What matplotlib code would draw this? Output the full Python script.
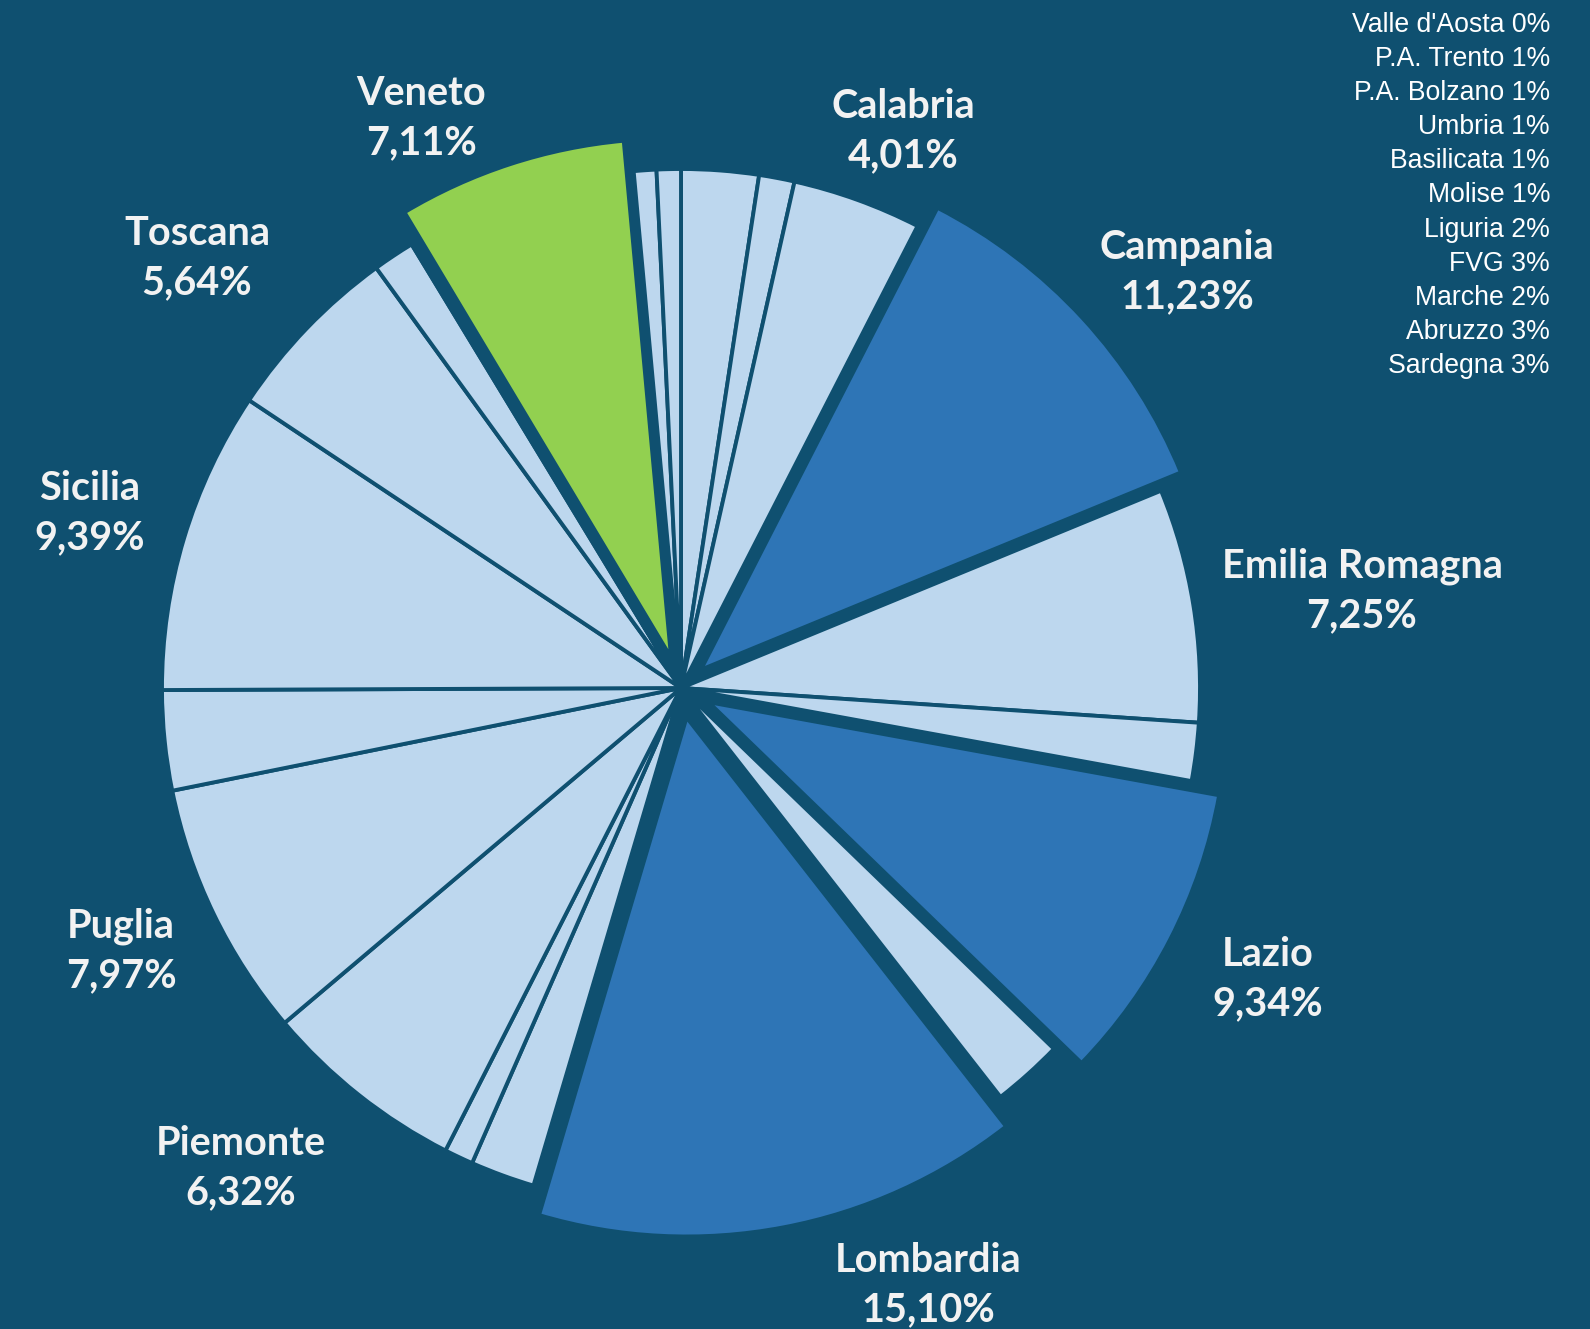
import matplotlib
matplotlib.use("Agg")
import matplotlib.pyplot as plt

# quote per regione, in senso orario partendo dalle 12
regions = ["Abruzzo", "Basilicata", "Calabria", "Campania", "Emilia Romagna", "FVG",
           "Lazio", "Liguria", "Lombardia", "Marche", "Molise", "Piemonte", "Puglia",
           "Sardegna", "Sicilia", "Toscana", "Umbria", "Valle d'Aosta", "Veneto",
           "P.A. Bolzano", "P.A. Trento"]
shares = [2.4, 1.1, 4.01, 11.23, 7.25, 1.8, 9.34, 2.2, 15.10, 2.0, 0.9, 6.32, 7.97,
          3.1, 9.39, 5.64, 1.3, 0.1, 7.11, 0.7, 0.75]

# regioni con etichetta sul grafico
labelled = ["Veneto", "Calabria", "Campania", "Toscana", "Sicilia", "Emilia Romagna",
            "Lazio", "Puglia", "Piemonte", "Lombardia"]
highlight_dark = ["Campania", "Lazio", "Lombardia"]
highlight_green = ["Veneto"]

# elenco regioni piccole (in alto a destra)
small_text = ["Valle d'Aosta 0%", "P.A. Trento 1%", "P.A. Bolzano 1%", "Umbria 1%",
              "Basilicata 1%", "Molise 1%", "Liguria 2%", "FVG 3%", "Marche 2%",
              "Abruzzo 3%", "Sardegna 3%"]

# layout (pixel, origine in alto a sinistra)
W, H = 1590, 1329
CENTER = (681, 688)
RADIUS = 519
explode_px = {"Campania": 27, "Lazio": 31, "Lombardia": 30, "Veneto": 32}
label_pos = {"Veneto": (421, 118), "Calabria": (903, 131), "Campania": (1187, 272),
             "Toscana": (197, 258), "Sicilia": (90, 513), "Emilia Romagna": (1362, 591),
             "Lazio": (1268, 979), "Puglia": (121, 951), "Piemonte": (241, 1168),
             "Lombardia": (928, 1285)}

BG = "#0F5070"
LIGHT = "#BDD7EE"
DARK = "#2E75B6"
GREEN = "#92D050"
TXT = "#F2F2F2"

colors = []
for r in regions:
    if r in highlight_dark:
        colors.append(DARK)
    elif r in highlight_green:
        colors.append(GREEN)
    else:
        colors.append(LIGHT)
explode = [explode_px.get(r, 0) for r in regions]

fig = plt.figure(figsize=(W / 100, H / 100), dpi=100, facecolor=BG)
ax = fig.add_axes([0, 0, 1, 1])
ax.set_facecolor(BG)

ax.pie(shares, colors=colors, explode=explode, startangle=90, counterclock=False,
       radius=RADIUS, center=(CENTER[0], H - CENTER[1]), frame=True,
       wedgeprops=dict(edgecolor=BG, linewidth=2.8))

for r in labelled:
    val = shares[regions.index(r)]
    txt = f"{r}\n{val:.2f}%".replace(".", ",")
    x, y = label_pos[r]
    ax.text(x, H - y, txt, ha="center", va="center", color=TXT, fontsize=28.5,
            fontweight="bold", family="Lato", linespacing=1.42)

for i, t in enumerate(small_text):
    ax.text(1550, H - (25 + i * 34.1), t, ha="right", va="center", color="white",
            fontsize=19.2, family="Liberation Sans")

ax.set_xlim(0, W)
ax.set_ylim(0, H)
ax.set_aspect("equal")
ax.axis("off")

fig.savefig("out.png", dpi=100, facecolor=BG)
